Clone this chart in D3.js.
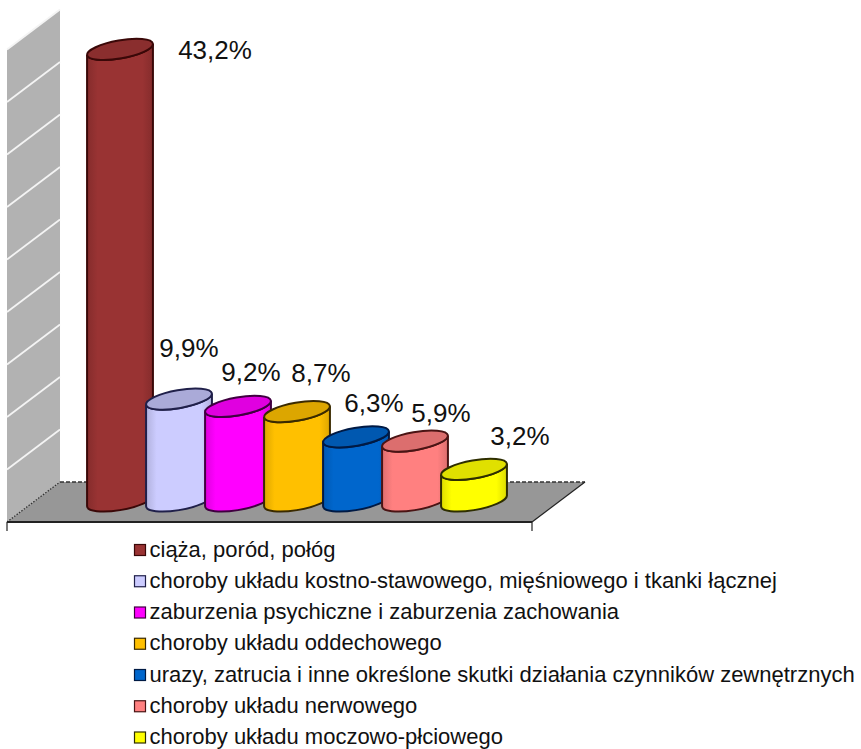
<!DOCTYPE html>
<html lang="pl">
<head>
<meta charset="UTF-8">
<title>Wykres</title>
<script src="https://d3js.org/d3.v7.min.js"></script>
<style>
  html, body { margin: 0; padding: 0; background: #fff; }
  svg { display: block; }
  text { font-family: "Liberation Sans", Arial, sans-serif; fill: #111; }
</style>
</head>
<body>
<div id="chart"></div>
<script>
var categories = [
  "ciąża, poród, połóg",
  "choroby układu kostno-stawowego, mięśniowego i tkanki łącznej",
  "zaburzenia psychiczne i zaburzenia zachowania",
  "choroby układu oddechowego",
  "urazy, zatrucia i inne określone skutki działania czynników zewnętrznych",
  "choroby układu nerwowego",
  "choroby układu moczowo-płciowego"
];
var values = [43.2, 9.9, 9.2, 8.7, 6.3, 5.9, 3.2];
var valueLabels = ["43,2%", "9,9%", "9,2%", "8,7%", "6,3%", "5,9%", "3,2%"];
var gridTicks = [5, 10, 15, 20, 25, 30, 35, 40, 45];
var sideColors = ["#993333", "#ccccff", "#ff00ff", "#ffc000", "#0066cc", "#ff8080", "#ffff00"];
var topColors = ["#8a2e2e", "#aaaad8", "#e000e0", "#dca600", "#0058b0", "#dc6e6e", "#e0e000"];
var edgeColors = ["#3a0808", "#20204a", "#400040", "#3a2a00", "#001a44", "#4a1414", "#2e2e00"];

var width = 861, height = 749;
var svg = d3.select("#chart").append("svg").attr("width", width).attr("height", height);
var defs = svg.append("defs");

// floor/wall box, depth goes up and to the right
var depth = {x: 53, y: -40};
var left = 7, right = 532, floorY = 522;
var wallY = d3.scaleLinear().domain([0, 45]).range([floorY, 49.5]);
// cylinder tops, measured from the middle of the base ellipse
var barY = d3.scaleLinear().domain([0, 45]).range([503, 30.5]);
var barX = d3.scalePoint().domain(categories).range([120, 474]);

var wall = svg.append("g");
wall.append("path")
  .attr("d", d3.line()([[left, wallY(0)], [left, wallY(45)],
    [left + depth.x, wallY(45) + depth.y], [left + depth.x, wallY(0) + depth.y]]))
  .attr("fill", "#b2b2b2");
wall.selectAll("line.grid").data(gridTicks).enter().append("line")
  .attr("class", "grid")
  .attr("x1", left).attr("x2", left + depth.x)
  .attr("y1", function(d) { return wallY(d); })
  .attr("y2", function(d) { return wallY(d) + depth.y; })
  .attr("stroke", "#f4f4f4").attr("stroke-width", 1.8);

// floor
var floor = svg.append("g");
floor.append("path")
  .attr("d", d3.line()([[left, floorY], [right, floorY],
    [right + depth.x, floorY + depth.y], [left + depth.x, floorY + depth.y]]) + "Z")
  .attr("fill", "#979797");
floor.append("line")
  .attr("x1", left + depth.x).attr("x2", right + depth.x)
  .attr("y1", floorY + depth.y).attr("y2", floorY + depth.y)
  .attr("stroke", "#333").attr("stroke-width", 1.3).attr("stroke-dasharray", "4,2");
floor.append("line")
  .attr("x1", left).attr("x2", left + depth.x)
  .attr("y1", floorY).attr("y2", floorY + depth.y)
  .attr("stroke", "#333").attr("stroke-width", 1.3).attr("stroke-dasharray", "1.5,1.5");
floor.append("line")
  .attr("x1", right).attr("x2", right + depth.x)
  .attr("y1", floorY).attr("y2", floorY + depth.y)
  .attr("stroke", "#222").attr("stroke-width", 1.2);
floor.append("line")
  .attr("x1", left).attr("x2", right)
  .attr("y1", floorY).attr("y2", floorY)
  .attr("stroke", "#222").attr("stroke-width", 2);
floor.selectAll("line.tick").data([left, right]).enter().append("line")
  .attr("class", "tick")
  .attr("x1", function(d) { return d; }).attr("x2", function(d) { return d; })
  .attr("y1", floorY).attr("y2", floorY + 9)
  .attr("stroke", "#222").attr("stroke-width", 1.2);

// tilted cylinder
var rx = 33.4, ry = 9, tilt = -10 * Math.PI / 180;
var tiltDeg = tilt * 180 / Math.PI;
var t0 = Math.atan(-(ry / rx) * Math.tan(tilt));
var edgeDx = rx * Math.cos(t0) * Math.cos(tilt) - ry * Math.sin(t0) * Math.sin(tilt);
var edgeDy = rx * Math.cos(t0) * Math.sin(tilt) + ry * Math.sin(t0) * Math.cos(tilt);

function sidePath(cx, yTop, yBase) {
  return "M" + (cx - edgeDx) + "," + (yTop - edgeDy) +
    "L" + (cx - edgeDx) + "," + (yBase - edgeDy) +
    "A" + rx + "," + ry + " " + tiltDeg + " 0 0 " + (cx + edgeDx) + "," + (yBase + edgeDy) +
    "L" + (cx + edgeDx) + "," + (yTop + edgeDy) +
    "A" + rx + "," + ry + " " + tiltDeg + " 0 1 " + (cx - edgeDx) + "," + (yTop - edgeDy) + "Z";
}

sideColors.forEach(function(c, i) {
  var g = defs.append("linearGradient").attr("id", "side" + i);
  var dark = d3.color(c).darker(0.4);
  g.append("stop").attr("offset", "0%").attr("stop-color", dark);
  g.append("stop").attr("offset", "16%").attr("stop-color", c);
  g.append("stop").attr("offset", "84%").attr("stop-color", c);
  g.append("stop").attr("offset", "100%").attr("stop-color", dark);
});

var bars = svg.selectAll("g.bar").data(categories).enter().append("g").attr("class", "bar");
bars.append("path")
  .attr("d", function(d, i) { return sidePath(barX(d), barY(values[i]), barY(0) - 2); })
  .attr("fill", function(d, i) { return "url(#side" + i + ")"; })
  .attr("stroke", function(d, i) { return edgeColors[i]; })
  .attr("stroke-width", 2);
bars.append("ellipse")
  .attr("transform", function(d, i) {
    return "translate(" + barX(d) + "," + barY(values[i]) + ") rotate(" + tiltDeg + ")";
  })
  .attr("rx", rx).attr("ry", ry)
  .attr("fill", function(d, i) { return topColors[i]; })
  .attr("stroke", function(d, i) { return edgeColors[i]; })
  .attr("stroke-width", 2);

// labels were placed by hand in the original, offsets from the bar top
var labelDx = [95, 10, 13, 24, 18, 26, 46];
var labelDy = [10, -42, -25, -30, -25, -19, -24];
svg.selectAll("text.value").data(valueLabels).enter().append("text")
  .attr("class", "value")
  .attr("x", function(d, i) { return barX(categories[i]) + labelDx[i]; })
  .attr("y", function(d, i) { return barY(values[i]) + labelDy[i]; })
  .attr("text-anchor", "middle")
  .style("font-size", "26px")
  .text(function(d) { return d; });

// legend
var legendY = d3.scalePoint().domain(categories).range([550, 737.5]);
var legend = svg.selectAll("g.legend").data(categories).enter().append("g")
  .attr("class", "legend")
  .attr("transform", function(d) { return "translate(134," + legendY(d) + ")"; });
legend.append("rect")
  .attr("x", 0.5).attr("y", -5.5).attr("width", 11).attr("height", 11)
  .attr("fill", function(d, i) { return sideColors[i]; })
  .attr("stroke", function(d, i) { return edgeColors[i]; })
  .attr("stroke-width", 1.2);
legend.append("text")
  .attr("x", 15.5).attr("y", 6.5)
  .style("font-size", "22px")
  .text(function(d) { return d; });
</script>
</body>
</html>
